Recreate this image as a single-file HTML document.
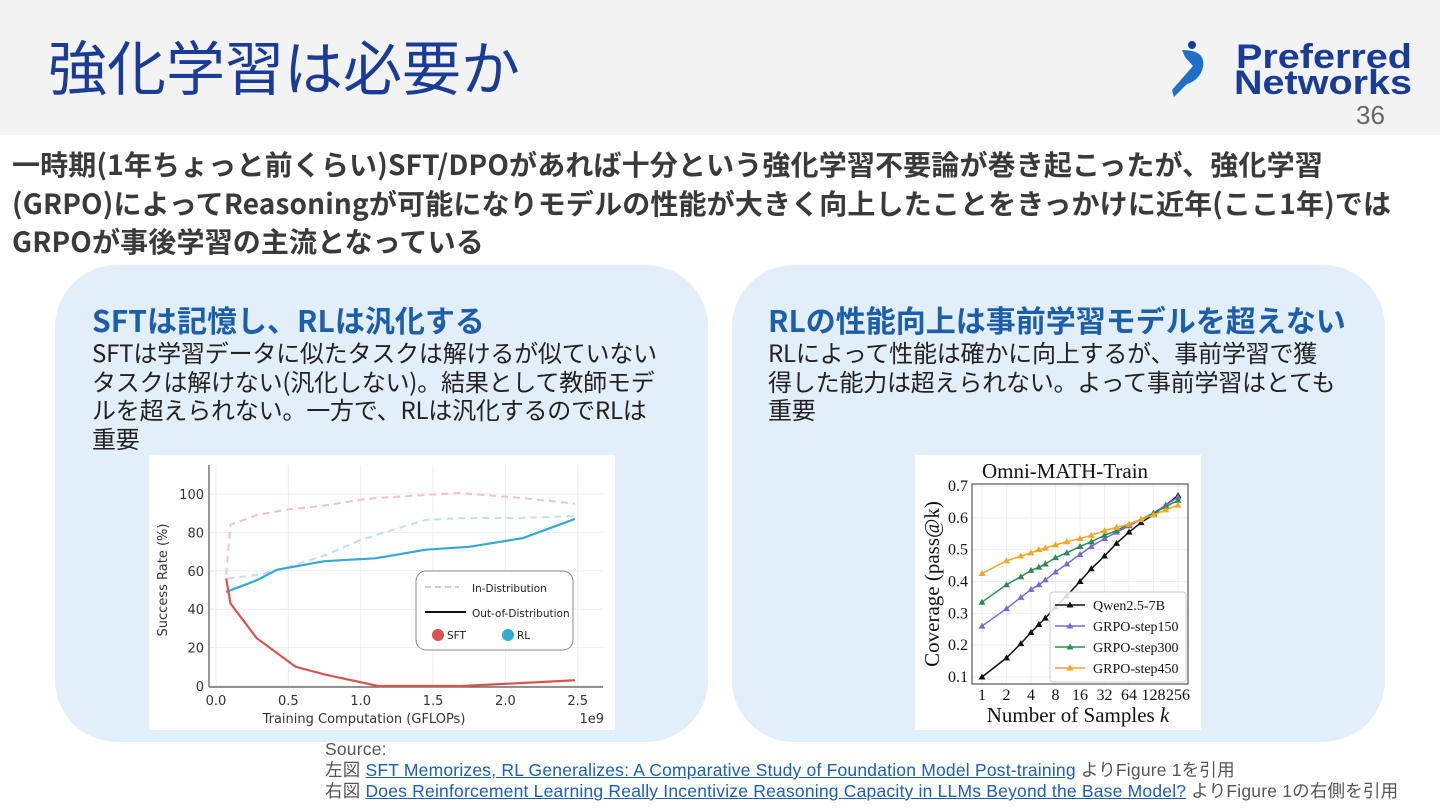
<!DOCTYPE html>
<html><head><meta charset="utf-8">
<style>
body{margin:0;width:1440px;height:810px;position:relative;background:#fff;overflow:hidden;font-family:"Noto Sans CJK JP","Liberation Sans",sans-serif}
.abs{position:absolute}
#hdr{left:0;top:0;width:1440px;height:135px;background:#f3f3f3}
#title{left:48px;top:22px;font-size:59px;color:#1a3c96;white-space:nowrap;line-height:86px}
#pg{left:1356px;top:100px;font-size:26px;color:#666;font-family:"Liberation Sans",sans-serif}
#intro{left:12px;top:145px;font-size:28px;font-weight:bold;color:#3a3a3a;line-height:38.5px;width:1430px;white-space:nowrap;letter-spacing:0.15px}
.panel{top:265px;width:653px;height:477px;background:#e2effa;border-radius:62px}
.ph{font-size:30px;font-weight:bold;color:#1d5ea8;white-space:nowrap;line-height:36px}
.pb{font-size:24px;color:#222;line-height:28.5px;white-space:nowrap;letter-spacing:-0.2px}
#src{left:325px;top:739px;font-size:17.5px;color:#555;line-height:21px;font-family:"Liberation Sans","Noto Sans CJK JP",sans-serif;white-space:nowrap;letter-spacing:0.2px}
#src a{color:#1a5fb4;text-decoration:underline}
</style></head><body>
<div id="hdr" class="abs"></div>
<div id="title" class="abs">強化学習は必要か</div>
<svg class="abs" style="left:1170px;top:40px" width="260" height="60">
<circle cx="22" cy="5" r="4" fill="#1a3c96"/>
<path d="M12 10 Q36 10 33 27 Q30 40 17 44 L4 57 L2 50 L23 26 L15 17 Z" fill="#1f6fc8"/>
<text x="66" y="28" font-size="34" font-weight="bold" fill="#1a3c96" textLength="176" lengthAdjust="spacingAndGlyphs" style="font-family:'Liberation Sans',sans-serif">Preferred</text>
<text x="64" y="54" font-size="34" font-weight="bold" fill="#1a3c96" textLength="178" lengthAdjust="spacingAndGlyphs" style="font-family:'Liberation Sans',sans-serif">Networks</text>
</svg>
<div id="pg" class="abs">36</div>
<div id="intro" class="abs">一時期(1年ちょっと前くらい)SFT/DPOがあれば十分という強化学習不要論が巻き起こったが、強化学習<br>(GRPO)によってReasoningが可能になりモデルの性能が大きく向上したことをきっかけに近年(ここ1年)では<br>GRPOが事後学習の主流となっている</div>

<div class="abs panel" style="left:55px"></div>
<div class="abs panel" style="left:732px"></div>
<div class="abs ph" style="left:92px;top:301px">SFTは記憶し、RLは汎化する</div>
<div class="abs pb" style="left:92px;top:338px">SFTは学習データに似たタスクは解けるが似ていない<br>タスクは解けない(汎化しない)。結果として教師モデ<br>ルを超えられない。一方で、RLは汎化するのでRLは<br>重要</div>
<div class="abs ph" style="left:768px;top:301px">RLの性能向上は事前学習モデルを超えない</div>
<div class="abs pb" style="left:768px;top:338px">RLによって性能は確かに向上するが、事前学習で獲<br>得した能力は超えられない。よって事前学習はとても<br>重要</div>

<svg id="lc" class="abs" style="left:149px;top:455px" width="466" height="275"></svg>
<svg id="rc" class="abs" style="left:915px;top:455px" width="286" height="275"></svg>

<div id="src" class="abs">Source:<br>
左図 <a>SFT Memorizes, RL Generalizes: A Comparative Study of Foundation Model Post-training</a> よりFigure 1を引用<br>
右図 <a>Does Reinforcement Learning Really Incentivize Reasoning Capacity in LLMs Beyond the Base Model?</a> よりFigure 1の右側を引用</div>

<script>
const NS="http://www.w3.org/2000/svg";
// ---- left chart data ----
const xTicksL=[0.0,0.5,1.0,1.5,2.0,2.5];
const xTickLabelsL=["0.0","0.5","1.0","1.5","2.0","2.5"];
const yTicksL=[0,20,40,60,80,100];
const sftOodX=[0.07,0.1,0.28,0.55,0.75,1.12,1.45,1.7,2.1,2.48];
const sftOodY=[56,43,25,10,6,0,0,0,1.5,3];
const sftIdX=[0.07,0.1,0.28,0.5,0.75,1.0,1.12,1.45,1.68,2.1,2.48];
const sftIdY=[58,84,89,92,94,97,98,99.5,100.5,98,95];
const rlIdX=[0.08,0.3,0.5,0.75,1.0,1.12,1.45,1.7,2.1,2.48];
const rlIdY=[56,58,62,68,76,79,86.5,87.5,87.5,88.5];
const rlOodX=[0.07,0.28,0.42,0.75,1.1,1.45,1.75,2.12,2.48];
const rlOodY=[49,55,60.5,65,66.5,71,72.5,77,87];
// ---- right chart data ----
const kVals=[1,2,3,4,5,6,8,11,16,22,32,45,64,90,128,181,256];
const qwen=[.10,.16,.205,.24,.265,.285,.32,.355,.40,.44,.48,.52,.555,.585,.61,.64,.67];
const g150=[.26,.315,.35,.375,.39,.405,.43,.455,.485,.51,.535,.555,.575,.595,.615,.64,.665];
const g300=[.335,.39,.415,.435,.445,.455,.475,.49,.51,.525,.545,.56,.58,.595,.615,.635,.655];
const g450=[.425,.465,.48,.49,.50,.505,.515,.525,.535,.545,.56,.57,.58,.595,.61,.625,.64];
const kTicks=[1,2,4,8,16,32,64,128,256];
const yTicksR=[0.1,0.2,0.3,0.4,0.5,0.6,0.7];
const seriesNames=["Qwen2.5-7B","GRPO-step150","GRPO-step300","GRPO-step450"];

const SANS="font-family:'DejaVu Sans','Liberation Sans',sans-serif";
const SERIF="font-family:'Liberation Serif',serif";
function el(p,t,a,txt){const e=document.createElementNS(NS,t);for(const k in a)e.setAttribute(k,a[k]);if(txt!==undefined)e.textContent=txt;p.appendChild(e);return e;}
// left
const L=document.getElementById('lc');
el(L,'rect',{x:0,y:0,width:466,height:275,fill:'#fff'});
const lx=v=>67+v*144.7, ly=v=>231-v*1.92;
xTicksL.forEach((t,i)=>{el(L,'line',{x1:lx(t),x2:lx(t),y1:10,y2:232,stroke:'#eee'});
 const tx=el(L,'text',{x:lx(t),y:250,'font-size':13,'text-anchor':'middle',fill:'#333',style:SANS},xTickLabelsL[i]);
 });
yTicksL.forEach(t=>{el(L,'line',{x1:61,x2:454,y1:ly(t),y2:ly(t),stroke:'#eee'});
 const tx=el(L,'text',{x:55,y:ly(t)+5,'font-size':13,'text-anchor':'end',fill:'#333',style:SANS},String(t));
 });
el(L,'line',{x1:60,x2:60,y1:10,y2:232,stroke:'#555','stroke-width':1.2});
el(L,'line',{x1:60,x2:454,y1:232,y2:232,stroke:'#555','stroke-width':1.2});
el(L,'text',{x:215,y:268,'font-size':13,'text-anchor':'middle',fill:'#333',style:SANS},'Training Computation (GFLOPs)');
el(L,'text',{x:455,y:268,'font-size':13,'text-anchor':'end',fill:'#333',style:SANS},'1e9');
el(L,'text',{x:18,y:125,'font-size':13,'text-anchor':'middle',fill:'#333',style:SANS,transform:'rotate(-90 18 125)'},'Success Rate (%)');
function line(svg,X,Y,fx,fy,stroke,dash,w,name){const p=el(svg,'polyline',{points:X.map((x,i)=>fx(x)+','+fy(Y[i])).join(' '),fill:'none',stroke:stroke,'stroke-width':w,'stroke-dasharray':dash||'none'});
 return p;}
line(L,sftIdX,sftIdY,lx,ly,'#f0c4c4','7 5',2,'sft-in-distribution-line');
line(L,rlIdX,rlIdY,lx,ly,'#bfe0ee','7 5',2,'rl-in-distribution-line');
line(L,rlOodX,rlOodY,lx,ly,'#35a9d2','',2.2,'rl-out-of-distribution-line');
line(L,sftOodX,sftOodY,lx,ly,'#d9534f','',2.2,'sft-out-of-distribution-line');
const lg=el(L,'g',{});
el(lg,'rect',{x:267,y:116,width:157,height:79,rx:10,fill:'#fff',stroke:'#888'});
el(lg,'line',{x1:276,x2:310,y1:132,y2:132,stroke:'#ccc','stroke-width':2,'stroke-dasharray':'6 4'});
el(lg,'text',{x:323,y:137,'font-size':10.5,fill:'#222',style:SANS},'In-Distribution');
el(lg,'line',{x1:276,x2:317,y1:157,y2:157,stroke:'#111','stroke-width':2});
el(lg,'text',{x:323,y:162,'font-size':10.5,fill:'#222',style:SANS},'Out-of-Distribution');
el(lg,'circle',{cx:289,cy:180,r:6,fill:'#d9534f'});el(lg,'text',{x:298,y:184,'font-size':10.5,fill:'#222',style:SANS},'SFT');
el(lg,'circle',{cx:359,cy:180,r:6,fill:'#35a9d2'});el(lg,'text',{x:368,y:184,'font-size':10.5,fill:'#222',style:SANS},'RL');
// right
const R=document.getElementById('rc');
el(R,'rect',{x:0,y:0,width:286,height:275,fill:'#fff'});
const rx=k=>67+Math.log2(k)*24.5, ry=v=>222-(v-0.1)*318.3;
kTicks.forEach(k=>{el(R,'line',{x1:rx(k),x2:rx(k),y1:29,y2:229,stroke:'#eee'});
 const t=el(R,'text',{x:rx(k),y:245,'font-size':16,'text-anchor':'middle',fill:'#111',style:SERIF},String(k));
 });
yTicksR.forEach(v=>{el(R,'line',{x1:57,x2:273,y1:ry(v),y2:ry(v),stroke:'#eee'});
 const t=el(R,'text',{x:53,y:ry(v)+5,'font-size':16,'text-anchor':'end',fill:'#111',style:SERIF},v.toFixed(1));
 });
el(R,'rect',{x:57,y:29,width:216,height:200,fill:'none',stroke:'#333'});
el(R,'text',{x:150,y:23,'font-size':21,'text-anchor':'middle',fill:'#111',style:SERIF},'Omni-MATH-Train');
const xt=el(R,'text',{x:163,y:267,'font-size':21,'text-anchor':'middle',fill:'#111',style:SERIF});

xt.innerHTML='Number of Samples <tspan font-style="italic">k</tspan>';
el(R,'text',{x:24,y:129,'font-size':21,'text-anchor':'middle',fill:'#111',style:SERIF,transform:'rotate(-90 24 129)'},'Coverage (pass@k)');
const colors=['#111','#7b68d6','#2e8b57','#f5a623'];
[qwen,g150,g300,g450].forEach((ser,si)=>{
 const g=el(R,'g',{});
 el(g,'polyline',{points:kVals.map((k,i)=>rx(k)+','+ry(ser[i])).join(' '),fill:'none',stroke:colors[si],'stroke-width':1.5});
 kVals.forEach((k,i)=>{const x=rx(k),y=ry(ser[i]);const m=el(g,'path',{d:`M${x} ${y-3.5}L${x+3.5} ${y+2.5}L${x-3.5} ${y+2.5}Z`,fill:colors[si]});
  });
});
const rg=el(R,'g',{});
el(rg,'rect',{x:135,y:137,width:136,height:90,rx:3,fill:'rgba(255,255,255,0.85)',stroke:'#ccc'});
seriesNames.forEach((n,i)=>{const y=150+i*21;
 el(rg,'line',{x1:140,x2:170,y1:y,y2:y,stroke:colors[i],'stroke-width':1.5});
 el(rg,'path',{d:`M155 ${y-3.5}L158.5 ${y+2.5}L151.5 ${y+2.5}Z`,fill:colors[i]});
 el(rg,'text',{x:178,y:y+5,'font-size':14,fill:'#111',style:SERIF},n);});
</script>
</body></html>
